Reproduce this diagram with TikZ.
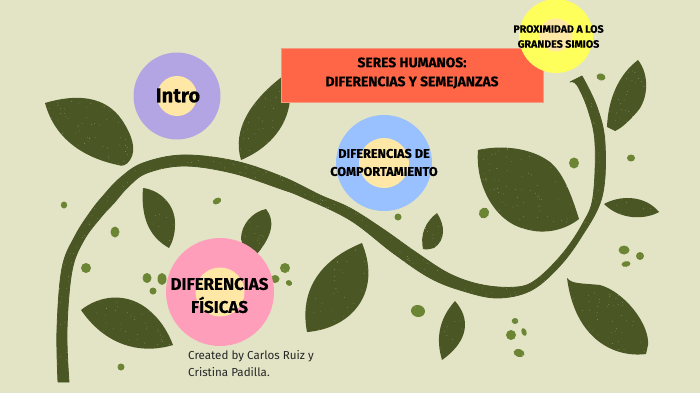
\documentclass[tikz,border=0pt]{standalone}
\usepackage{fontspec}
\setmainfont[BoldFeatures={FakeBold=0.25}]{Fira Sans}
\definecolor{paper}{HTML}{E3E4C6}
\definecolor{foliage}{HTML}{4A5624}
\definecolor{seed}{HTML}{6B8535}
\definecolor{lilac}{HTML}{B3A4E4}
\definecolor{sky}{HTML}{99C1FF}
\definecolor{rose}{HTML}{FF9EBB}
\definecolor{lemon}{HTML}{FFFF5C}
\definecolor{cream}{HTML}{FFE8A6}
\definecolor{coral}{HTML}{FF6647}
\definecolor{coraledge}{HTML}{F59A80}
\newcommand{\seedat}[4][0]{\fill[seed,rotate around={#1:(#2)}] (#2) ellipse [x radius=#3,y radius=#4];}
\tikzset{
  heading/.style={font=\bfseries\fontsize{13.8}{19}\selectfont,align=center,text=black},
  disc/.style={circle,inner sep=0pt,minimum size=#1},
  leaf/.style={fill=foliage},
}
\begin{document}
\begin{tikzpicture}[x=1pt,y=-1pt]
\useasboundingbox (0,0) rectangle (700,393);
\fill[paper] (0,0) rectangle (700,393);

% Leaves
\path[leaf] (45,103) .. controls (75,94) and (105,95) .. (122,120) .. controls (132,135) and (137,150) .. (130,160) .. controls (127,165) and (122,167) .. (118,165) .. controls (85,158) and (55,140) .. (45,103) -- cycle;
\path[leaf] (241,160) .. controls (232,130) and (250,100) .. (287,73) -- (290,100) .. controls (287,130) and (265,150) .. (241,160) -- cycle;
\path[leaf] (143,188) .. controls (160,190) and (176,205) .. (175,225) .. controls (175,235) and (172,243) .. (169,248) .. controls (155,240) and (140,225) .. (143,188) -- cycle;
\path[leaf] (266,209) .. controls (275,220) and (273,235) .. (257,254) .. controls (248,248) and (241,245) .. (241,239) .. controls (241,225) and (252,212) .. (266,209) -- cycle;
\path[leaf] (81,310) .. controls (100,295) and (125,293) .. (145,307) .. controls (160,318) and (168,332) .. (173,345) .. controls (140,355) and (105,345) .. (81,310) -- cycle;
\path[leaf] (307,332) .. controls (300,295) and (315,262) .. (362,243) .. controls (373,270) and (370,295) .. (352,313) .. controls (340,325) and (322,331) .. (307,332) -- cycle;
\path[leaf] (437,213) .. controls (445,225) and (446,240) .. (434,248) .. controls (430,249) and (426,250) .. (423,249) .. controls (420,235) and (425,222) .. (437,213) -- cycle;
\path[leaf] (455,301) .. controls (470,318) and (470,340) .. (442,360) .. controls (436,340) and (438,320) .. (455,301) -- cycle;
\path[leaf] (567,278) .. controls (572,284) and (580,283) .. (600,285) .. controls (625,292) and (650,325) .. (648,345) -- (646,354) .. controls (615,358) and (575,340) .. (567,278) -- cycle;
\path[leaf] (604,204) .. controls (620,195) and (645,195) .. (659,212) .. controls (645,220) and (620,220) .. (604,204) -- cycle;
\path[leaf] (478,150) .. controls (500,145) and (530,147) .. (550,162) .. controls (562,172) and (570,190) .. (579,219) .. controls (565,230) and (545,235) .. (525,229) .. controls (495,222) and (475,185) .. (478,150) -- cycle;
\path[leaf] (638,60) .. controls (650,75) and (648,100) .. (637,112) .. controls (630,120) and (622,128) .. (615,131) -- (607,127) .. controls (608,100) and (618,75) .. (638,60) -- cycle;

% Main vine, wider along the crown than at the base
\filldraw[fill=foliage,draw=foliage,line width=0.8,line join=round]
  plot[smooth,tension=0.6] coordinates {(58,382) (57,329) (62,268) (75,236) (91,211) (103,196) (120,178) (143,163) (183,155) (235,161) (283,177) (320,195) (350,208) (383,229) (417,253) (450,274) (483,285) (517,287) (537,279) (563,253) (583,223) (593,197) (595,143) (588,110) (577,85) (570,82)}
  -- plot[smooth,tension=0.6] coordinates {(582,76) (597,107) (605,143) (602,197) (580,239) (557,269) (530,291) (497,298) (463,291) (430,278) (393,253) (350,220) (302,197) (281,189) (232,173) (184,166) (147,173) (128,187) (114,203) (102,216) (84,240) (72,271) (67,330) (69,382)}
  -- cycle;

% Seeds
\seedat[-15]{601,77}{4.5}{3.5}
\seedat{574,163}{5}{5.5}
\seedat{631,158}{4}{3.5}
\seedat{64,205}{3.2}{3.5}
\seedat{115,232}{4.5}{5.5}
\seedat{86,268}{5}{5}
\seedat{147,278}{4.5}{5}
\seedat{162,279}{4.5}{6}
\seedat{153,291}{3.5}{3.5}
\seedat{121,367}{3.5}{3.5}
\seedat[30]{217,201}{4.5}{3}
\seedat{275,279}{4.5}{4}
\seedat{285,268}{5}{5}
\seedat[-30]{289,283}{3.2}{2.8}
\seedat{398,217}{3.5}{3.5}
\seedat[-30]{484,213}{5}{5.5}
\seedat[-10]{418,311}{7}{6}
\seedat{515,321}{3.3}{3}
\seedat{511,335}{5}{5}
\seedat[20]{524,332}{2.5}{4}
\seedat[-15]{519,353}{5.5}{4}
\seedat{624,250}{5.5}{4.5}
\seedat{640,256}{4}{4}
\seedat[10]{626,264}{4.5}{2.8}

% Paper grain showing through the painted shapes
\pgfmathsetseed{7}
\foreach \g in {1,...,2600}{
  \pgfmathsetmacro{\gx}{40+rnd*625}
  \pgfmathsetmacro{\gy}{55+rnd*330}
  \fill[paper,opacity=0.45] (\gx,\gy) circle [radius=0.4];
}

% Title banner
\fill[coral,draw=coraledge,line width=0.5] (281,48) rectangle (543.5,102);

% Flower discs
\node[disc=87pt,fill=lilac] (introOuter) at (177,96) {};
\node[disc=40pt,fill=cream] (introInner) at (177,96) {};
\node[disc=96pt,fill=sky] (conductOuter) at (384,163) {};
\node[disc=50pt,fill=cream] (conductInner) at (384,163) {};
\node[disc=108pt,fill=rose] (physicalOuter) at (220,292) {};
\node[disc=49pt,fill=cream] (physicalInner) at (220,292) {};
\node[disc=74pt,fill=lemon] (apesOuter) at (556,36) {};
\node[disc=33pt,fill=cream] (apesInner) at (556,35) {};

% Labels
\node[heading] (title) at (412,73) {SERES HUMANOS:\\DIFERENCIAS Y SEMEJANZAS};
\node[heading,font=\bfseries\fontsize{20}{24}\selectfont] (intro) at (178,95.5) {Intro};
\node[heading,font=\bfseries\fontsize{12.7}{18}\selectfont] (conduct) at (384,162.5) {DIFERENCIAS DE\\COMPORTAMIENTO};
\node[heading,font=\bfseries\fontsize{16.9}{23}\selectfont] (physical) at (219.5,295.5) {DIFERENCIAS\\FÍSICAS};
\node[heading,font=\bfseries\fontsize{10.6}{15}\selectfont] (apes) at (558.5,36.5) {PROXIMIDAD A LOS\\GRANDES SIMIOS};
\node[font=\fontsize{11.6}{16.5}\selectfont,align=left,text=black!85,anchor=west,inner sep=0pt] (credit) at (188,363.5) {Created by Carlos Ruiz y\\Cristina Padilla.};
\end{tikzpicture}
\end{document}
